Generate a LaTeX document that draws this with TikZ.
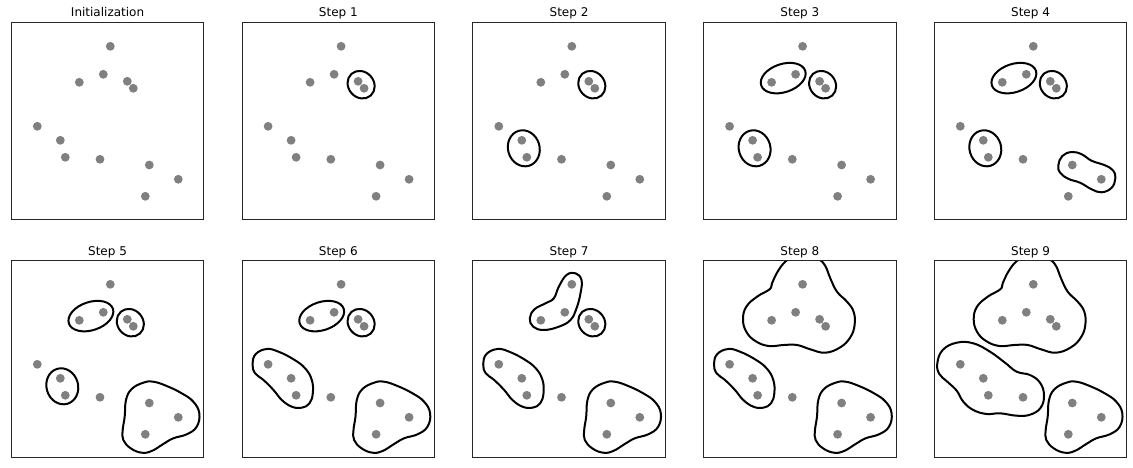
\documentclass[tikz,border=0pt]{standalone}
\usepackage{fontspec}
\setmainfont{DejaVu Sans}
\tikzset{
  blob/.style={draw=black, line width=2pt, line join=round},
  ptfill/.style={fill=gray},
  frame/.style={draw=black!85, line width=0.8pt},
  ttl/.style={font=\fontsize{12}{14}\selectfont, anchor=base, inner sep=0pt}
}
\newcommand\drawpts{%
  \foreach \p in {(99,24),(92,52),(68,60),(116,59),(122,66),(26,104),(49,118),(54,135),(88.7,137),(138,142.7),(167,157),(134,174)}
    \fill[ptfill] \p circle[radius=4.4pt];}
% pair p4,p5
\newcommand\bFF{\draw[blob, rotate around={-49:(119,62.4)}] (119,62.4) ellipse [x radius=14.5pt, y radius=12.8pt];}
% pair p2,p3
\newcommand\bTT{\draw[blob, rotate around={18.4:(79.6,55.8)}] (79.6,55.8) ellipse [x radius=23.2pt, y radius=14.1pt];}
% pair p7,p8
\newcommand\bSE{\draw[blob, rotate around={-73.6:(51,126)}] (51,126) ellipse [x radius=18.2pt, y radius=15.8pt];}
% pair p10,p11
\newcommand\bTE{\draw[blob] plot[smooth cycle, tension=0.7] coordinates {(124,143) (128,133.7) (137.4,129.7) (147.4,132) (157.4,138.5) (170.7,143) (179,148.4) (181,156) (177.4,165.4) (167.4,170) (157.4,167) (145.7,160.4) (134,156.5) (125.7,150.3)};}
% triple p10,p11,p12
\newcommand\bTET{\draw[blob] plot[smooth cycle, tension=0.7] coordinates {(114.7,139.7) (120.4,128.7) (132,122.4) (142,121.4) (155.4,125.7) (170.4,133) (182,141.4) (188,153) (185.4,166.4) (175.4,174) (162,178) (152,183.7) (140.4,190.7) (130.4,192.4) (119.4,188) (112,179.7) (111.4,169.7) (113.4,156.3)};}
% p6,p7,p8
\newcommand\bSSE{\draw[blob] plot[smooth cycle, tension=0.7] coordinates {(10.4,103.7) (13.7,93.7) (24.7,88.7) (36.4,91.4) (51.4,99) (63,108) (69.7,119.7) (70.7,133) (67.4,143) (59.7,147.4) (49.7,146.4) (39.7,139.7) (31.4,129.7) (21.4,119.7) (13,113)};}
% p1,p2,p3
\newcommand\bOTT{\draw[blob] plot[smooth cycle, tension=0.7] coordinates {(93.7,14.7) (102.7,13) (108.7,19.7) (107.7,33) (103.7,48) (97.7,59.7) (86,66.4) (71,69.7) (60.4,66.4) (57,58) (61.7,49) (72.7,43) (81,38) (86,26.4)};}
% p1..p5
\newcommand\bFive{\draw[blob] plot[smooth cycle, tension=0.7] coordinates {(68.4,23) (74,11.4) (81.7,1.4) (90,-3) (103.4,-4) (115,-1) (121.7,5.7) (126.7,18) (133.4,31.4) (143.4,41.4) (150,51.4) (151,64.7) (146.7,77) (136.7,87) (121.7,92.4) (106.7,89) (93.4,84.7) (80,84.7) (65,85.7) (51.7,80.7) (42.7,71.4) (39.4,59) (42.7,46.4) (53.4,36.4) (66,29)};}
% p6..p9
\newcommand\bFour{\draw[blob] plot[smooth cycle, tension=0.7] coordinates {(3,103) (8.4,89.7) (22.4,82.4) (39,83) (55.7,91.4) (70.7,102.4) (82.4,111.4) (95.7,114.7) (105.7,122.4) (109.7,134.7) (106.4,147.4) (95.7,154.4) (82.4,155.4) (65.7,153) (52.4,153.7) (39,149.7) (29,141.4) (22.4,130.4) (13,121.4) (5,113.7)};}
\newcommand\panel[5]{%
  \begin{scope}[shift={(#1,#2)}]
    \begin{scope}
      \clip (0,0) rectangle (192.5,197.5);
      \drawpts
      #4
    \end{scope}
    \draw[frame] (0,0) rectangle (192.5,197.5);
    \node[ttl] (#5) at (96.25,-5.3) {#3};
  \end{scope}}
\begin{document}
\begin{tikzpicture}[x=1pt,y=-1pt]
  \useasboundingbox (0,0) rectangle (1133,468);
  \panel{11.3}{22.3}{Initialization}{}{t0}
  \panel{242.1}{22.3}{Step 1}{\bFF}{t1}
  \panel{472.8}{22.3}{Step 2}{\bFF\bSE}{t2}
  \panel{703.6}{22.3}{Step 3}{\bFF\bSE\bTT}{t3}
  \panel{934.3}{22.3}{Step 4}{\bFF\bSE\bTT\bTE}{t4}
  \panel{11.3}{260.3}{Step 5}{\bFF\bSE\bTT\bTET}{t5}
  \panel{242.1}{260.3}{Step 6}{\bFF\bTT\bTET\bSSE}{t6}
  \panel{472.8}{260.3}{Step 7}{\bFF\bTET\bSSE\bOTT}{t7}
  \panel{703.6}{260.3}{Step 8}{\bTET\bSSE\bFive}{t8}
  \panel{934.3}{260.3}{Step 9}{\bTET\bFive\bFour}{t9}
\end{tikzpicture}
\end{document}
